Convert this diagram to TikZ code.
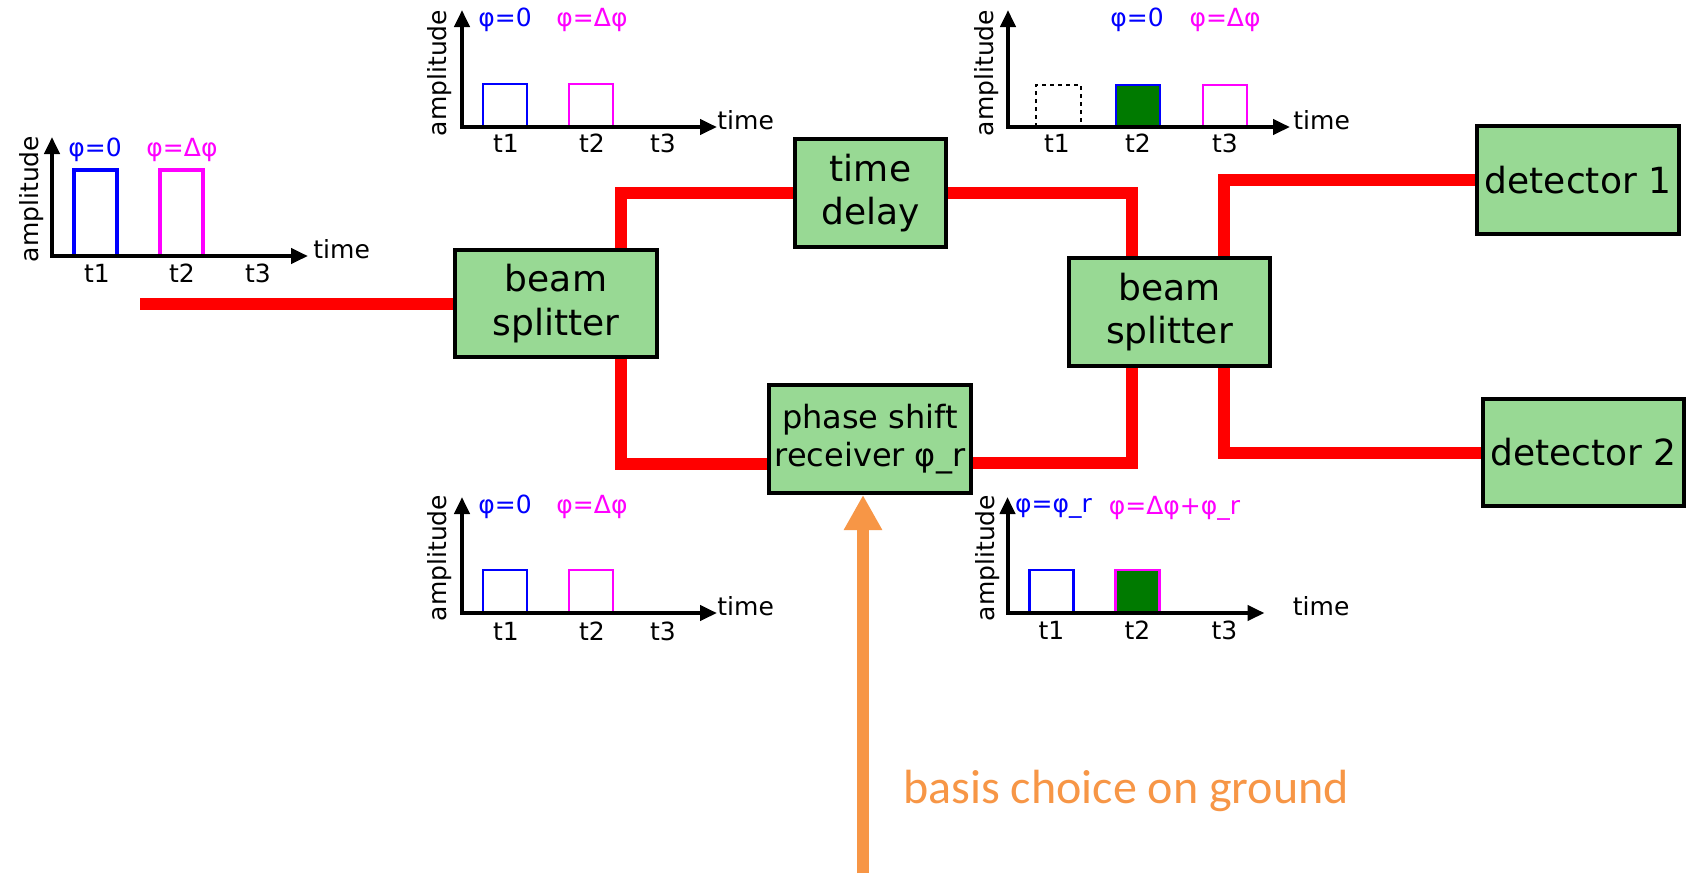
\documentclass[tikz,border=0pt]{standalone}
\usepackage{fontspec}
\setmainfont{DejaVu Sans}
\newfontfamily\carlito{Carlito}
\usetikzlibrary{arrows.meta,calc}
\definecolor{boxgreen}{RGB}{152,217,148}
\definecolor{pulsegreen}{RGB}{0,122,0}
\definecolor{beamred}{RGB}{255,0,0}
\definecolor{basisorange}{RGB}{247,150,70}
\definecolor{pblue}{RGB}{0,0,255}
\definecolor{pmag}{RGB}{255,0,255}
\begin{document}
\begin{tikzpicture}[x=0.5pt,y=-0.5pt,
  box/.style={draw=black, line width=2pt, fill=boxgreen, inner sep=0pt, align=center, font=\fontsize{18}{21.6}\selectfont},
  beam/.style={draw=beamred, line width=6pt},
  axisline/.style={line width=2pt, {Triangle[length=8.5pt,width=7.5pt]}-{Triangle[length=8.5pt,width=7.5pt]}},
  pulse/.style={line width=1.4pt},
  bigpulse/.style={line width=1.8pt},
  lbl/.style={font=\fontsize{12.5}{15}\selectfont, inner sep=0pt},
  amp/.style={lbl, rotate=90},
  basis/.style={draw=basisorange, line width=6pt, -{Triangle[length=17.5pt,width=18pt]}},
]
\fill[white] (0,0) rectangle (1691,880);
\useasboundingbox (0,0) rectangle (1691,880);

% ---------------- boxes ----------------
\node[box, minimum width=101pt, minimum height=53.5pt] (bs1) at (556,303.5) {beam\\splitter};
\node[box, minimum width=75.5pt, minimum height=54pt] (td) at (870.5,193) {time\\delay};
\node[box, minimum width=101pt, minimum height=54pt, font=\fontsize{16}{19}\selectfont] (ps) at (870,439) {phase shift\\receiver φ\_r};
\node[box, minimum width=100.5pt, minimum height=54pt] (bs2) at (1169.5,312) {beam\\splitter};
\node[box, minimum width=101pt, minimum height=54pt] (d1) at (1578,180) {detector 1};
\node[box, minimum width=100.5pt, minimum height=53.5pt] (d2) at (1583.5,452.5) {detector 2};

% ---------------- beam paths ----------------
\coordinate (in) at (140,303.5);
\coordinate (j1) at (621,193);
\coordinate (j2) at (1132,193);
\coordinate (j3) at (1224,180);
\coordinate (psin) at ($(ps.west)+(0,25)$);
\coordinate (psout) at ($(ps.east)+(0,24)$);
\draw[beam] (in) -- (bs1.west);
\draw[beam] (bs1.north -| j1) |- (td.west);
\draw[beam] (bs1.south -| j1) |- (psin);
\draw[beam] (td.east) -| (bs2.north -| j2);
\draw[beam] (psout) -| (bs2.south -| j2);
\draw[beam] (bs2.north -| j3) |- (d1.west);
\draw[beam] (bs2.south -| j3) |- (d2.west);

% ---------------- basis choice ----------------
\coordinate (gnd) at (863,873);
\draw[basis] (gnd) -- (ps.south -| gnd);
\node[anchor=base west, inner sep=0pt, text=basisorange, font=\carlito\fontsize{24}{28}\selectfont] (basis) at (903,803) {basis choice on ground};

% ---------------- chart: input ----------------
\begin{scope}[shift={(52,256)}]
\draw[bigpulse, pblue] (22,0) -- (22,-86) -- (65,-86) -- (65,0);
\draw[bigpulse, pmag] (108,0) -- (108,-86) -- (151,-86) -- (151,0);
\draw[axisline] (0,-119) -- (0,0) -- (256,0);
\node[lbl, text=pblue] (a0) at (43,-106) {φ=0};
\node[lbl, text=pmag] (a1) at (130,-106) {φ=Δφ};
\node[lbl, anchor=west] (atime) at (261,-7) {time};
\node[lbl] (at1) at (45,17) {t1};
\node[lbl] (at2) at (130,17) {t2};
\node[lbl] (at3) at (206,17) {t3};
\node[amp] (aamp) at (-20,-57) {amplitude};
\end{scope}

% ---------------- chart: upper arm ----------------
\begin{scope}[shift={(462,127)}]
\draw[pulse, pblue] (21,0) -- (21,-43) -- (65,-43) -- (65,0);
\draw[pulse, pmag] (107,0) -- (107,-43) -- (151,-43) -- (151,0);
\draw[axisline] (0,-117) -- (0,0) -- (255,0);
\node[lbl, text=pblue] (b0) at (43,-107) {φ=0};
\node[lbl, text=pmag] (b1) at (130,-107) {φ=Δφ};
\node[lbl, anchor=west] (btime) at (255,-7) {time};
\node[lbl] (bt1) at (44,16) {t1};
\node[lbl] (bt2) at (130,16) {t2};
\node[lbl] (bt3) at (201,16) {t3};
\node[amp] (bamp) at (-22,-54) {amplitude};
\end{scope}

% ---------------- chart: output top ----------------
\begin{scope}[shift={(1008,127)}]
\draw[line width=1pt, dash pattern=on 2pt off 2pt] (28,0) -- (28,-42) -- (73,-42) -- (73,0);
\draw[pulse, pblue, fill=pulsegreen] (108,0) -- (108,-42) -- (152,-42) -- (152,0);
\draw[pulse, pmag] (195,0) -- (195,-42) -- (239,-42) -- (239,0);
\draw[axisline] (0,-117) -- (0,0) -- (282,0);
\node[lbl, text=pblue] (c0) at (129,-107) {φ=0};
\node[lbl, text=pmag] (c1) at (217,-107) {φ=Δφ};
\node[lbl, anchor=west] (ctime) at (285,-7) {time};
\node[lbl] (ct1) at (49,16) {t1};
\node[lbl] (ct2) at (130,16) {t2};
\node[lbl] (ct3) at (217,16) {t3};
\node[amp] (camp) at (-21,-54) {amplitude};
\end{scope}

% ---------------- chart: lower arm ----------------
\begin{scope}[shift={(462,613)}]
\draw[pulse, pblue] (21,0) -- (21,-43) -- (65,-43) -- (65,0);
\draw[pulse, pmag] (107,0) -- (107,-43) -- (151,-43) -- (151,0);
\draw[axisline] (0,-116) -- (0,0) -- (255,0);
\node[lbl, text=pblue] (e0) at (43,-106) {φ=0};
\node[lbl, text=pmag] (e1) at (130,-106) {φ=Δφ};
\node[lbl, anchor=west] (etime) at (255,-7) {time};
\node[lbl] (et1) at (44,18) {t1};
\node[lbl] (et2) at (130,18) {t2};
\node[lbl] (et3) at (201,18) {t3};
\node[amp] (eamp) at (-22,-55) {amplitude};
\end{scope}

% ---------------- chart: after phase shift ----------------
\begin{scope}[shift={(1007.5,613)}]
\draw[pulse, pblue] (22,0) -- (22,-43) -- (66,-43) -- (66,0);
\draw[pulse, pmag, fill=pulsegreen] (108,0) -- (108,-43) -- (152,-43) -- (152,0);
\draw[axisline] (0,-116) -- (0,0) -- (257,0);
\node[lbl, text=pblue] (f0) at (46,-105) {φ=φ\_r};
\node[lbl, text=pmag] (f1) at (167,-105) {φ=Δφ+φ\_r};
\node[lbl, anchor=west] (ftime) at (285,-7) {time};
\node[lbl] (ft1) at (44,17) {t1};
\node[lbl] (ft2) at (130,17) {t2};
\node[lbl] (ft3) at (217,17) {t3};
\node[amp] (famp) at (-20,-55) {amplitude};
\end{scope}
\end{tikzpicture}
\end{document}
